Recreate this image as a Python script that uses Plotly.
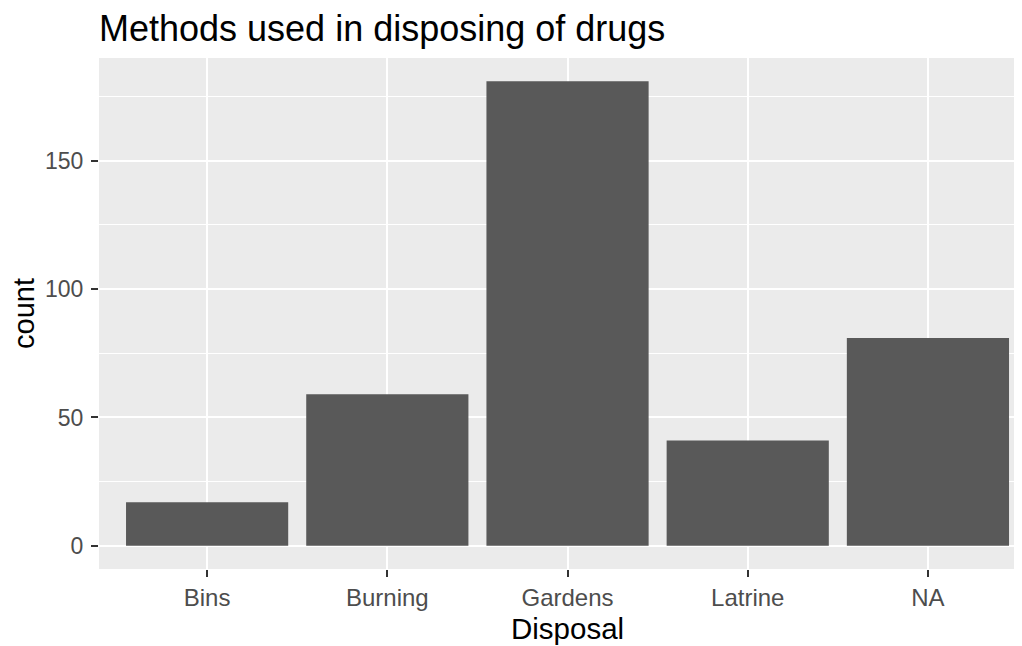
import plotly.graph_objects as go

categories = ["Bins", "Burning", "Gardens", "Latrine", "NA"]
counts = [17, 59, 181, 41, 81]
y_tickvals = [0, 50, 100, 150]
y_ticktext = ["0", "50", "100", "150"]

FONT = "Liberation Sans, Arial, sans-serif"

# The page body has an 8px default margin; the figure is sized to fill the rest.
W, H = 1014, 638

fig = go.Figure()
fig.add_trace(go.Bar(
    x=categories, y=counts, width=0.9,
    marker=dict(color="#595959", line=dict(width=0)),
    hoverinfo="x+y",
))

ymax = max(counts)
fig.update_layout(
    width=W, height=H,
    margin=dict(l=91, r=0, t=50, b=77, pad=0),
    paper_bgcolor="white",
    plot_bgcolor="#EBEBEB",
    showlegend=False,
    font=dict(family=FONT, color="#4D4D4D"),
    title=dict(
        text="Methods used in disposing of drugs",
        x=0, xref="paper", xanchor="left",
        y=1 - 20 / H, yref="container", yanchor="middle",
        font=dict(family=FONT, size=36, color="black"),
    ),
    xaxis=dict(
        type="category",
        range=[-0.6, 4.522],
        showgrid=True, gridcolor="white", gridwidth=1.6,
        ticks="outside", ticklen=7, tickwidth=1.5, tickcolor="#333333",
        tickfont=dict(size=24, color="#4D4D4D"),
        zeroline=False, showline=False, fixedrange=True,
    ),
    yaxis=dict(
        range=[-0.05 * ymax, 1.05 * ymax],
        tickmode="array", tickvals=y_tickvals, ticktext=y_ticktext,
        showgrid=True, gridcolor="white", gridwidth=1.6,
        minor=dict(dtick=25, tick0=0, showgrid=True, gridcolor="white", gridwidth=0.8, ticks=""),
        ticks="outside", ticklen=7, tickwidth=1.5, tickcolor="#333333",
        ticklabelstandoff=3,
        tickfont=dict(size=23, color="#4D4D4D"),
        title=dict(text="count", font=dict(size=29, color="black"), standoff=6),
        zeroline=False, showline=False, fixedrange=True,
    ),
    annotations=[dict(
        text="Disposal", x=categories[2], xref="x",
        y=0, yref="paper", yanchor="middle", yshift=-59,
        showarrow=False, font=dict(size=29.5, color="black", family=FONT),
    )],
    bargap=0.1,
)

fig.write_html("out.html")
